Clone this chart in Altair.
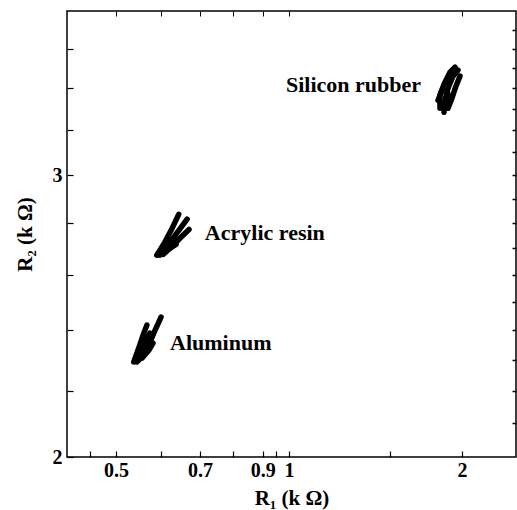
import altair as alt
import pandas as pd

# ---- data (R1, R2 in kOhm) ----
ALUMINUM = [
    [(0.537, 2.293), (0.550, 2.349), (0.559, 2.390), (0.566, 2.418)],
    [(0.544, 2.293), (0.557, 2.339), (0.566, 2.373), (0.573, 2.390)],
    [(0.548, 2.299), (0.564, 2.333), (0.573, 2.359), (0.585, 2.401), (0.599, 2.446)],
    [(0.555, 2.306), (0.571, 2.333), (0.580, 2.356)],
    [(0.542, 2.309), (0.562, 2.366)],
]
ACRYLIC = [
    [(0.589, 2.674), (0.608, 2.724), (0.626, 2.779), (0.643, 2.836)],
    [(0.596, 2.674), (0.616, 2.712), (0.636, 2.756), (0.651, 2.787), (0.665, 2.816)],
    [(0.604, 2.677), (0.626, 2.708), (0.646, 2.740), (0.670, 2.775)],
    [(0.599, 2.693), (0.621, 2.732)],
    [(0.613, 2.693), (0.636, 2.716)],
]
SILICON = [
    [(1.831, 3.304), (1.831, 3.366), (1.861, 3.420), (1.906, 3.480), (1.945, 3.505)],
    [(1.861, 3.285), (1.868, 3.342), (1.891, 3.401), (1.929, 3.460), (1.968, 3.490)],
    [(1.891, 3.304), (1.921, 3.352), (1.952, 3.410), (1.984, 3.460)],
    [(1.817, 3.342), (1.846, 3.391)],
    [(1.876, 3.323), (1.891, 3.371)],
]

LABEL_TEXT = ["Aluminum", "Acrylic resin", "Silicon rubber"]
LABEL_X = [0.621, 0.714, 0.988]
LABEL_Y = [2.357, 2.759, 3.414]

X_DOMAIN = [0.411, 2.483]
Y_DOMAIN = [2.0, 3.8]

X_TICKS_BOTTOM = [0.45, 0.5, 0.6, 0.7, 0.8, 0.9, 0.95, 1, 1.5, 2]
X_LABELS = [0.5, 0.7, 0.9, 1, 2]
X_TICKS_TOP = [0.5, 0.6, 0.7, 0.8, 0.9, 1, 2]
Y_TICKS_LEFT = [2, 2.2, 2.4, 2.6, 2.8, 3, 3.2, 3.4, 3.6]
Y_LABELS = [2, 3]
Y_TICKS_RIGHT = [2.1, 2.2, 2.3, 2.4, 2.5, 2.6, 2.7, 2.8, 2.9, 3.0,
                 3.1, 3.2, 3.3, 3.4, 3.5, 3.6, 3.7]

X_TITLE = "R₁ (k Ω)"
Y_TITLE = "R₂ (k Ω)"

FONT = "Liberation Serif"

rows = []
for name, strands in [("Aluminum", ALUMINUM), ("Acrylic resin", ACRYLIC),
                      ("Silicon rubber", SILICON)]:
    for i, s in enumerate(strands):
        for j, (x, y) in enumerate(s):
            rows.append({"material": name, "strand": f"{name}-{i}",
                         "order": j, "r1": x, "r2": y})
df = pd.DataFrame(rows)

labels_df = pd.DataFrame({"text": LABEL_TEXT, "r1": LABEL_X, "r2": LABEL_Y})

xscale = alt.Scale(type="log", domain=X_DOMAIN, nice=False)
yscale = alt.Scale(type="log", domain=Y_DOMAIN, nice=False)


def lab_expr(vals):
    arr = ",".join(str(v) for v in vals)
    return f"indexof([{arr}], datum.value) >= 0 ? format(datum.value, '~g') : ''"


lines = alt.Chart(df).mark_line(
    color="black", strokeWidth=5.5, strokeCap="round", strokeJoin="round"
).encode(
    x=alt.X("r1:Q", scale=xscale, axis=alt.Axis(
        orient="bottom", values=X_TICKS_BOTTOM, labelExpr=lab_expr(X_LABELS),
        offset=-6, tickSize=6, domain=False, grid=False,
        labelPadding=3, labelFontSize=20, labelFont=FONT, labelFontWeight="bold",
        labelColor="black", tickColor="black", tickWidth=1.2,
        title=X_TITLE, titleFont=FONT, titleFontSize=21, titleFontWeight="bold",
        titleColor="black", titlePadding=7)),
    y=alt.Y("r2:Q", scale=yscale, axis=alt.Axis(
        orient="left", values=Y_TICKS_LEFT, labelExpr=lab_expr(Y_LABELS),
        offset=-6, tickSize=6, domain=False, grid=False,
        labelPadding=5, labelFontSize=20, labelFont=FONT, labelFontWeight="bold",
        labelColor="black", tickColor="black", tickWidth=1.2,
        title=Y_TITLE, titleFont=FONT, titleFontSize=21, titleFontWeight="bold",
        titleColor="black", titlePadding=17)),
    detail="strand:N",
    order="order:Q",
)

texts = alt.Chart(labels_df).mark_text(
    align="left", baseline="middle", font=FONT, fontSize=22,
    fontWeight="bold", color="black"
).encode(
    x=alt.X("r1:Q", scale=xscale, axis=alt.Axis(
        orient="top", values=X_TICKS_TOP, labels=False, offset=-5, tickSize=5,
        domain=False, grid=False, tickColor="black", tickWidth=1, title=None)),
    y=alt.Y("r2:Q", scale=yscale, axis=alt.Axis(
        orient="right", values=Y_TICKS_RIGHT, labels=False, offset=-4, tickSize=4,
        domain=False, grid=False, tickColor="black", tickWidth=1.5, title=None)),
    text="text:N",
)

chart = alt.layer(lines, texts).resolve_axis(
    x="independent", y="independent"
).properties(
    width=449, height=446,
    padding={"left": 67, "top": 11, "right": 1, "bottom": 53},
    autosize=alt.AutoSizeParams(type="none"),
    background="white",
).configure_view(stroke="black", strokeWidth=1.5)

chart.save("out.html", embed_options={"renderer": "svg", "actions": False})
